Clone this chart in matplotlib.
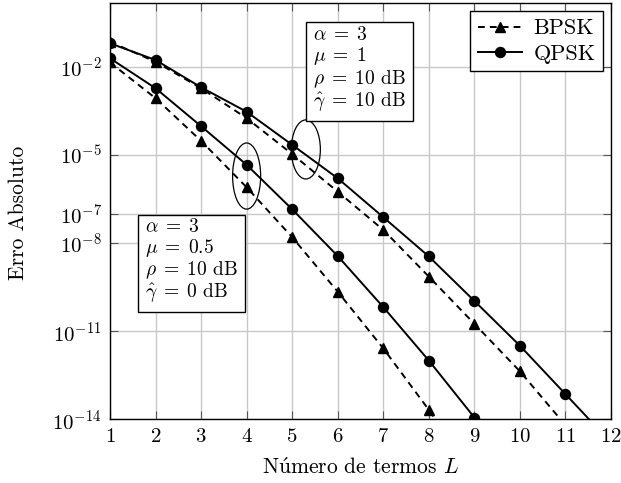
import matplotlib
matplotlib.use('Agg')
import matplotlib.pyplot as plt
import numpy as np
from matplotlib.patches import Ellipse
from matplotlib.ticker import LogFormatterMathtext, FixedLocator, NullLocator

plt.rcParams['font.family'] = ['cmr10', 'DejaVu Serif']
plt.rcParams['mathtext.fontset'] = 'cm'
plt.rcParams['axes.formatter.use_mathtext'] = True

# error vs number of terms, upper pair: mu = 1, gamma = 10 dB
L_qpsk_hi = [1, 2, 3, 4, 5, 6, 7, 8, 9, 10, 11, 12]
err_qpsk_hi = [6.3e-2, 1.7e-2, 2.0e-3, 2.95e-4, 2.2e-5, 1.6e-6, 7.6e-8, 3.5e-9,
               1.07e-10, 3.2e-12, 7.2e-14, 1.6e-15]
L_bpsk_hi = [1, 2, 3, 4, 5, 6, 7, 8, 9, 10, 11]
err_bpsk_hi = [7.1e-2, 1.48e-2, 1.86e-3, 1.78e-4, 1.07e-5, 5.6e-7, 2.8e-8, 7.2e-10,
               1.78e-11, 4.3e-13, 6.3e-15]

# lower pair: mu = 0.5, gamma = 0 dB
L_qpsk_lo = [1, 2, 3, 4, 5, 6, 7, 8, 9, 10]
err_qpsk_lo = [1.95e-2, 1.86e-3, 9.5e-5, 4.6e-6, 1.41e-7, 3.6e-9, 6.6e-11, 1.0e-12,
               1.15e-14, 1.0e-16]
L_bpsk_lo = [1, 2, 3, 4, 5, 6, 7, 8, 9]
err_bpsk_lo = [1.41e-2, 8.5e-4, 3.0e-5, 7.9e-7, 1.58e-8, 2.2e-10, 2.6e-12, 2.1e-14,
               1.26e-16]

ytick_vals = [1e-14, 1e-11, 1e-8, 1e-7, 1e-5, 1e-2]
xtick_vals = list(range(1, 13))

fig = plt.figure(figsize=(6.21, 4.83), dpi=100)
ax = fig.add_axes([0.1771, 0.1319, 0.8068, 0.8613])

lw = 1.4
dash = (3.5, 2.6)
ax.plot(L_bpsk_hi, err_bpsk_hi, color='k', lw=lw, dashes=dash, marker='^', ms=7.5, label='BPSK')
ax.plot(L_qpsk_hi, err_qpsk_hi, color='k', lw=lw, marker='o', ms=7.2, label='QPSK')
ax.plot(L_bpsk_lo, err_bpsk_lo, color='k', lw=lw, dashes=dash, marker='^', ms=7.5)
ax.plot(L_qpsk_lo, err_qpsk_lo, color='k', lw=lw, marker='o', ms=7.2)

ax.set_yscale('log')
ax.set_xlim(1, 12)
ax.set_ylim(1e-14, 1.45)
ax.xaxis.set_major_locator(FixedLocator(xtick_vals))
ax.yaxis.set_major_locator(FixedLocator(ytick_vals))
ax.yaxis.set_major_formatter(LogFormatterMathtext())
ax.yaxis.set_minor_locator(NullLocator())
ax.grid(True, color='#c8c8c8', lw=1.0)
ax.set_axisbelow(True)
ax.tick_params(direction='in', length=6, width=0.8, color='#555555',
               top=True, right=True, labelsize=15, pad=6)
for s in ax.spines.values():
    s.set_linewidth(1.0)

ax.set_xlabel(r'N$\acute{\mathrm{u}}$mero de termos $L$', fontsize=15.5)
ax.set_ylabel('Erro Absoluto', fontsize=15.5)
ax.xaxis.set_label_coords(0.5, -0.092)
ax.yaxis.set_label_coords(-0.164, 0.496)

# parameter boxes
box = dict(boxstyle='square,pad=0.35', fc='white', ec='black', lw=1.0)
ax.text(0.405, 0.945,
        '$\\alpha\\;=\\;3$\n$\\mu\\;=\\;1$\n$\\rho\\;=\\;10$ dB\n$\\hat{\\gamma}\\;=\\;10$ dB',
        transform=ax.transAxes, ha='left', va='top', fontsize=14, linespacing=1.06,
        bbox=box, zorder=5)
ax.text(0.07, 0.483,
        '$\\alpha\\;=\\;3$\n$\\mu\\;=\\;0.5$\n$\\rho\\;=\\;10$ dB\n$\\hat{\\gamma}\\;=\\;0$ dB',
        transform=ax.transAxes, ha='left', va='top', fontsize=14, linespacing=1.04,
        bbox=box, zorder=5)

# ellipses grouping the two modulations
to_axes = ax.transAxes.inverted()
def ring(x, y, w, h):
    cx, cy = to_axes.transform(ax.transData.transform((x, y)))
    ax.add_patch(Ellipse((cx, cy), w, h, transform=ax.transAxes,
                         fill=False, ec='black', lw=0.9, zorder=4))

ring(4, np.sqrt(err_qpsk_lo[3] * err_bpsk_lo[3]), 0.056, 0.159)
ring(5.3, np.sqrt(err_qpsk_hi[4] * err_bpsk_hi[4]), 0.058, 0.142)

leg = ax.legend(loc='upper right', fontsize=16, frameon=True, fancybox=False,
                edgecolor='black', framealpha=1, handlelength=2.0,
                borderaxespad=0.35, labelspacing=0.25, handletextpad=0.5,
                borderpad=0.35)
leg.get_frame().set_linewidth(1.0)

fig.savefig('out.png', dpi=100)
